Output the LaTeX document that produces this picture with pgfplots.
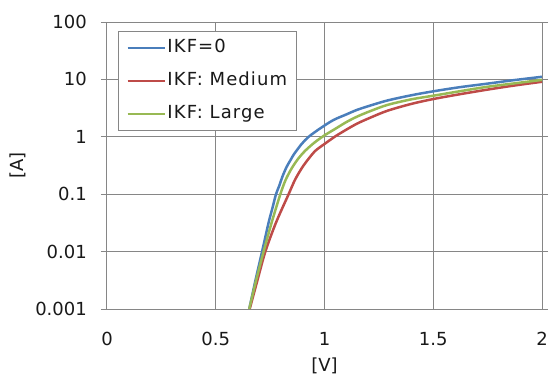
\documentclass[border=0pt]{standalone}
\usepackage{fontspec}
\setmainfont{DejaVu Sans}
\newfontfamily\legendfont{DejaVu Sans}[LetterSpace=6]
\usepackage{pgfplots}
\pgfplotsset{compat=1.18}

\definecolor{gridgray}{RGB}{134,134,134}
\definecolor{ikfblue}{RGB}{74,126,187}
\definecolor{ikfred}{RGB}{190,75,72}
\definecolor{ikfgreen}{RGB}{152,185,84}

\begin{document}
\begin{tikzpicture}
\fontsize{18pt}{21pt}\selectfont
\begin{axis}[
  scale only axis,
  width=435pt, height=287pt,
  ymode=log,
  xmin=0, xmax=2, ymin=0.001, ymax=100,
  xtick={0,0.5,1,1.5,2},
  xticklabels={0,0.5,1,1.5,2},
  ytick={0.001,0.01,0.1,1,10,100},
  yticklabels={0.001,0.01,0.1,1,10,100},
  yminorticks=false,
  grid=major,
  major grid style={gridgray, line width=1pt},
  axis line style={gridgray, line width=1pt},
  tick align=outside,
  major tick length=6pt,
  xtick style={draw=none},
  ytick style={gridgray, line width=1pt},
  tick label style={font=\fontsize{18pt}{21pt}\selectfont, text=black!90},
  xticklabel style={anchor=center, yshift=-24pt},
  yticklabel style={anchor=east, xshift=-8pt},
  every axis x label/.style={at={(rel axis cs:0.5,0)}, anchor=center, yshift=-57pt},
  every axis y label/.style={at={(rel axis cs:0,0.5)}, anchor=center, xshift=-89pt, rotate=90},
  label style={font=\fontsize{18pt}{21pt}\selectfont, text=black!90},
  xlabel={[V]},
  ylabel={[A]},
  legend cell align=left,
  legend image code/.code={\draw[#1, line width=2.5pt] (0pt,0pt) -- (37pt,0pt);},
  legend style={at={(0,1)}, anchor=north west, xshift=11pt, yshift=-9pt,
    draw=gridgray, line width=1pt, fill=white,
    font=\legendfont\fontsize{18pt}{21pt}\selectfont, text=black!90,
    inner xsep=8pt, inner ysep=0pt,
    nodes={inner xsep=1.5pt, inner ysep=8pt, text height=13pt, text depth=4pt}},
]
\coordinate (ll) at (rel axis cs:0,0);
\coordinate (ur) at (rel axis cs:1,1);

% IKF = 0
\addplot[ikfblue, line width=2.5pt, smooth] table {
0.654 0.001
0.683 0.0032
0.713 0.01
0.743 0.032
0.762 0.06
0.777 0.1
0.792 0.14
0.806 0.2
0.826 0.3
0.845 0.4
0.860 0.5
0.895 0.75
0.927 1.0
0.98 1.4
1.04 1.95
1.10 2.45
1.15 2.95
1.21 3.5
1.29 4.3
1.4 5.3
1.5 6.2
1.62 7.3
1.745 8.4
1.87 9.7
2.0 11.1
};
\addlegendentry{IKF=0}

% IKF medium
\addplot[ikfred, line width=2.5pt, smooth] table {
0.656 0.001
0.692 0.0032
0.728 0.01
0.777 0.032
0.835 0.1
0.865 0.18
0.897 0.29
0.928 0.42
0.959 0.575
1.0 0.75
1.05 1.02
1.1 1.33
1.15 1.7
1.21 2.15
1.29 2.85
1.4 3.75
1.5 4.55
1.62 5.5
1.745 6.6
1.87 7.8
2.0 9.1
};
\addlegendentry{IKF: Medium}

% IKF large
\addplot[ikfgreen, line width=2.5pt, smooth] table {
0.654 0.001
0.686 0.0032
0.720 0.01
0.757 0.032
0.797 0.1
0.822 0.18
0.851 0.29
0.880 0.42
0.912 0.575
0.955 0.8
1.0 1.06
1.05 1.38
1.1 1.8
1.15 2.25
1.21 2.8
1.29 3.6
1.4 4.5
1.5 5.2
1.62 6.2
1.745 7.4
1.87 8.5
2.0 9.8
};
\addlegendentry{IKF: Large}
\end{axis}
\pgfresetboundingbox
\path[use as bounding box] (ll) ++(-107pt,-67pt) rectangle ([shift={(7pt,22pt)}]ur);
\end{tikzpicture}
\end{document}
